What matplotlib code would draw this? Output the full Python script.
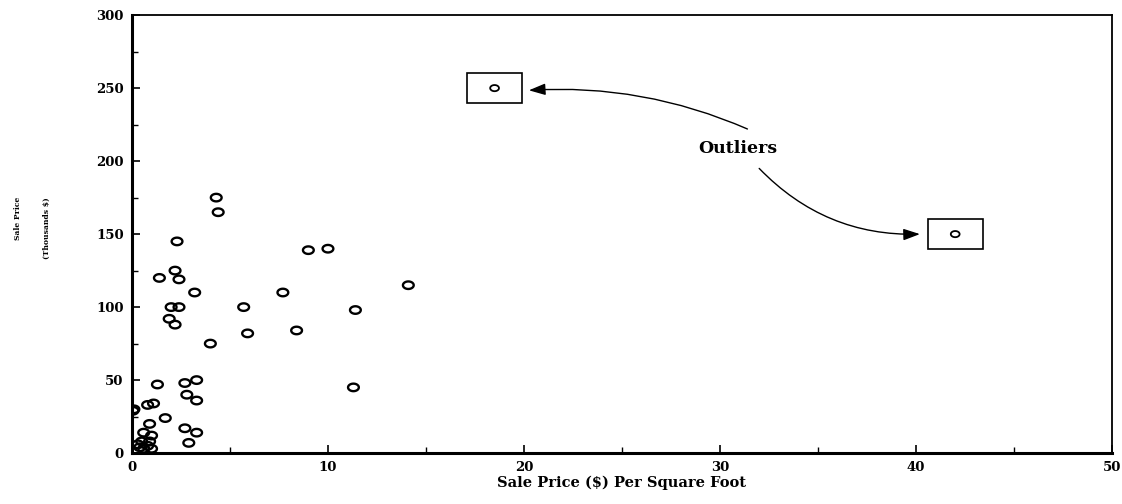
import numpy as np
import matplotlib
matplotlib.use("Agg")
import matplotlib.pyplot as plt
from matplotlib.path import Path
from matplotlib.patches import Rectangle

# Data: sale price per square foot ($) vs sale price (thousands $)
price_per_sqft = [0.05, 0.1, 0.8, 1.1, 1.7, 0.9, 0.6, 1.0, 2.7, 3.3, 2.9,
                  0.3, 0.5, 0.6, 0.8, 1.0, 0.9, 0.4,
                  1.3, 2.7, 3.3, 2.8, 3.3,
                  4.0, 2.2, 1.9, 2.0, 2.4, 5.7, 5.9, 8.4, 7.7, 3.2,
                  1.4, 2.2, 2.4, 2.3, 4.3, 4.4,
                  9.0, 10.0, 11.4, 14.1, 11.3]
sale_price = [29, 30, 33, 34, 24, 20, 14, 12, 17, 14, 7,
              6, 8, 3, 5, 3, 8, 4,
              47, 48, 50, 40, 36,
              75, 88, 92, 100, 100, 100, 82, 84, 110, 110,
              120, 125, 119, 145, 175, 165,
              139, 140, 98, 115, 45]
outlier_x = [18.5, 42.0]
outlier_y = [250, 150]

x_ticks = [0, 10, 20, 30, 40, 50]
y_ticks = [0, 50, 100, 150, 200, 250, 300]

plt.rcParams['font.family'] = ['DejaVu Serif']
fig = plt.figure(figsize=(11.22, 5.04), dpi=100)
ax = fig.add_axes([0.1176, 0.101, 0.8735, 0.869])

# elliptical hollow marker
t = np.linspace(0, 2 * np.pi, 60)
ell = Path(np.column_stack([np.cos(t), 0.7 * np.sin(t)]), closed=True)

ax.scatter(price_per_sqft, sale_price, marker=ell, s=60, facecolors='none',
           edgecolors='black', linewidths=1.7, zorder=3)
ax.scatter(outlier_x, outlier_y, marker=ell, s=40, facecolors='none',
           edgecolors='black', linewidths=1.3, zorder=3)

# boxes around outliers
bw, bh = 2.8, 20.5
for ox, oy in zip(outlier_x, outlier_y):
    ax.add_patch(Rectangle((ox - bw / 2, oy - bh / 2), bw, bh, fill=False,
                           edgecolor='black', linewidth=1.2, zorder=2))

ax.set_xlim(0, 50)
ax.set_ylim(0, 300)
ax.set_xticks(x_ticks)
ax.set_yticks(y_ticks)
ax.set_xticks(np.arange(5, 50, 10), minor=True)
ax.set_yticks(np.arange(25, 300, 50), minor=True)
ax.tick_params(which='major', direction='in', length=6, width=1.2,
               labelsize=9.5, pad=6)
ax.tick_params(which='minor', direction='in', length=4, width=1.0)
for lab in ax.get_xticklabels() + ax.get_yticklabels():
    lab.set_fontweight('bold')
for s in ax.spines.values():
    s.set_linewidth(1.3)
for s in ['left', 'bottom']:
    ax.spines[s].set_linewidth(2.2)

ax.set_xlabel('Sale Price ($) Per Square Foot', fontsize=10.5,
              fontweight='bold', labelpad=1)
fig.text(0.016, 0.609, 'Sale Price', rotation=90, ha='center', va='top',
         fontsize=5.5, fontweight='bold')
fig.text(0.042, 0.609, '(Thousands $)', rotation=90, ha='center', va='top',
         fontsize=5.5, fontweight='bold')

# annotation
ax.text(30.9, 208.5, 'Outliers', ha='center', va='center', fontsize=12.5,
        fontweight='bold')
ax.annotate('', xy=(outlier_x[0] + 1.75, 248.5), xytext=(31.4, 222),
            arrowprops=dict(arrowstyle='-|>,head_length=1.0,head_width=0.35',
                            color='black', lw=1.0, shrinkA=0, shrinkB=0,
                            connectionstyle='arc3,rad=0.12'))
ax.annotate('', xy=(outlier_x[1] - 1.8, 150), xytext=(32.0, 195),
            arrowprops=dict(arrowstyle='-|>,head_length=1.0,head_width=0.35',
                            color='black', lw=1.0, shrinkA=0, shrinkB=0,
                            connectionstyle='arc3,rad=0.22'))

fig.savefig('out.png', dpi=100)
